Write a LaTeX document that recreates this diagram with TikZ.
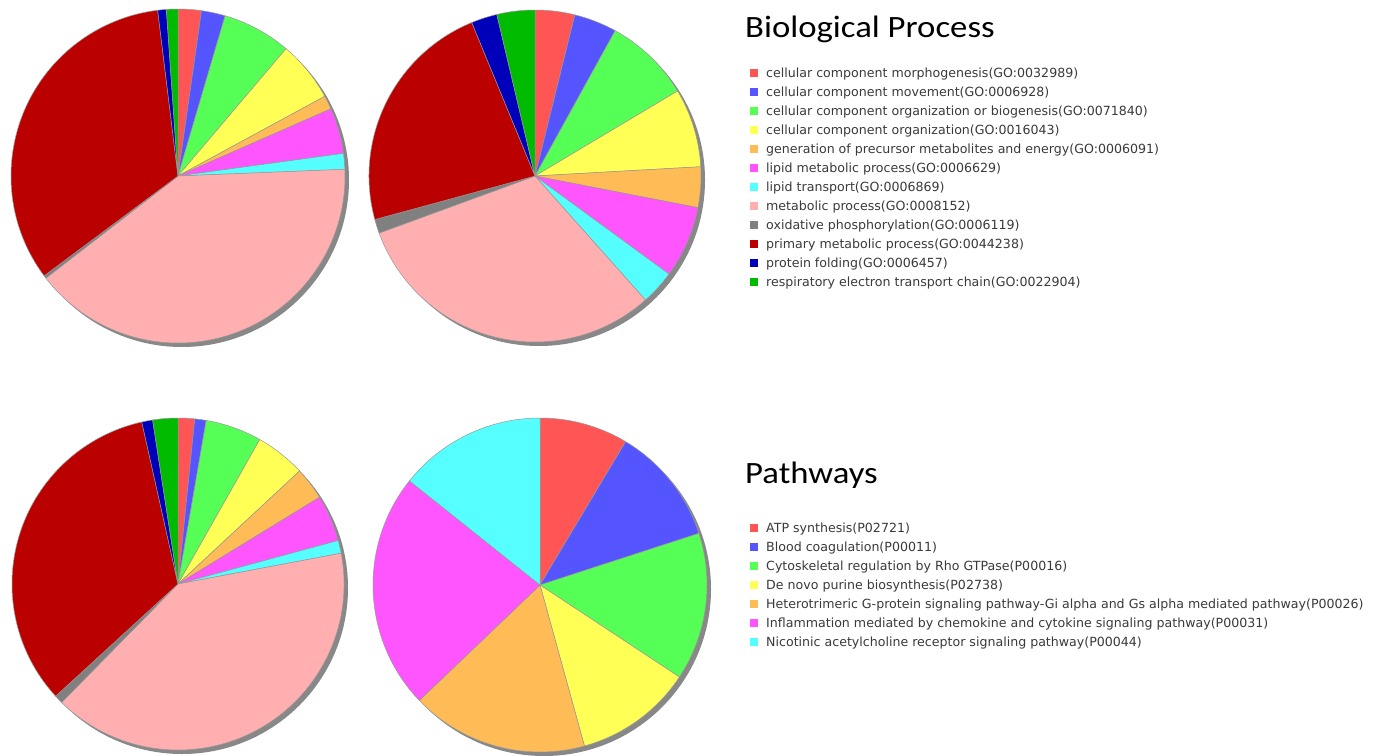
\documentclass[tikz,border=0pt]{standalone}
\usepackage{fontspec}
\newfontfamily\legfont{DejaVu Sans}
\newfontfamily\titfont{Carlito}
\definecolor{cRed}{HTML}{FF5555}
\definecolor{cBlue}{HTML}{5555FF}
\definecolor{cGreen}{HTML}{55FF55}
\definecolor{cYellow}{HTML}{FFFF55}
\definecolor{cOrange}{HTML}{FFBB55}
\definecolor{cMagenta}{HTML}{FF55FF}
\definecolor{cCyan}{HTML}{55FFFF}
\definecolor{cPink}{HTML}{FFAFAF}
\definecolor{cGray}{HTML}{808080}
\definecolor{cDarkRed}{HTML}{BB0000}
\definecolor{cNavy}{HTML}{0000BB}
\definecolor{cDarkGreen}{HTML}{00BB00}
\definecolor{shadowgray}{HTML}{888888}
\definecolor{edgegray}{HTML}{999999}
\definecolor{legtext}{HTML}{3A3A3A}
\newcommand\mypie[4]{%
  \fill[shadowgray] (#1+4,#2+4) circle[radius=#3];
  \foreach \a/\b/\c in {#4} {%
    \filldraw[fill=\c, draw=edgegray, line width=0.5pt, line join=round]
      (#1,#2) -- ++(\a-90:#3) arc[start angle=\a-90, end angle=\b-90, radius=#3] -- cycle;
  }%
}
\newcommand\widetitle[1]{\scalebox{1.12}[1]{#1}}
\tikzset{
  legsq/.style={draw=none, minimum size=8pt, inner sep=0pt, outer sep=0pt},
  legtxt/.style={anchor=base west, inner sep=0pt, text=legtext, font=\legfont\fontsize{12.6}{14}\selectfont},
  titletext/.style={anchor=base west, inner sep=0pt, text=black, font=\titfont\fontsize{31}{37}\selectfont}
}
\begin{document}
\begin{tikzpicture}[x=1pt,y=-1pt]
\useasboundingbox (0,0) rectangle (1378,755);
\fill[white] (0,0) rectangle (1378,755);

% Pie 1: top-left
\mypie{178}{176}{167}{0/8.1/cRed, 8.1/16.4/cBlue, 16.4/40.3/cGreen, 40.3/61.5/cYellow, 61.5/66.3/cOrange, 66.3/82.2/cMagenta, 82.2/87.7/cCyan, 87.7/232.3/cPink, 232.3/233.3/cGray, 233.3/353/cDarkRed, 353/356/cNavy, 356/360/cDarkGreen}

% Pie 2: top-right
\mypie{535}{176}{166}{0/13.9/cRed, 13.9/28.9/cBlue, 28.9/59.2/cGreen, 59.2/86.8/cYellow, 86.8/101/cOrange, 101/126.2/cMagenta, 126.2/138.3/cCyan, 138.3/249.9/cPink, 249.9/254.8/cGray, 254.8/337.6/cDarkRed, 337.6/346.7/cNavy, 346.7/360/cDarkGreen}

% Pie 3: bottom-left
\mypie{178}{584}{166}{0/5.8/cRed, 5.8/9.8/cBlue, 9.8/29.5/cGreen, 29.5/47.1/cYellow, 47.1/58.5/cOrange, 58.5/74.8/cMagenta, 74.8/79.3/cCyan, 79.3/224.5/cPink, 224.5/227.5/cGray, 227.5/347.4/cDarkRed, 347.4/351.2/cNavy, 351.2/360/cDarkGreen}

% Pie 4: bottom-right (pathways)
\mypie{540}{585}{167}{0/30.857/cRed, 30.857/72/cBlue, 72/123.429/cGreen, 123.429/164.571/cYellow, 164.571/226.286/cOrange, 226.286/308.571/cMagenta, 308.571/360/cCyan}

% Titles
\node[titletext] (bptitle) at (745,37.3) {\widetitle{Biological Process}};
\node[titletext] (pwtitle) at (745,483.3) {\widetitle{Pathways}};

% Biological process legend
\foreach \c/\t [count=\i from 0] in {
  cRed/{cellular component morphogenesis(GO:0032989)},
  cBlue/{cellular component movement(GO:0006928)},
  cGreen/{cellular component organization or biogenesis(GO:0071840)},
  cYellow/{cellular component organization(GO:0016043)},
  cOrange/{generation of precursor metabolites and energy(GO:0006091)},
  cMagenta/{lipid metabolic process(GO:0006629)},
  cCyan/{lipid transport(GO:0006869)},
  cPink/{metabolic process(GO:0008152)},
  cGray/{oxidative phosphorylation(GO:0006119)},
  cDarkRed/{primary metabolic process(GO:0044238)},
  cNavy/{protein folding(GO:0006457)},
  cDarkGreen/{respiratory electron transport chain(GO:0022904)}} {
  \node[legsq, fill=\c] (bpsq\i) at (754,73+19*\i) {};
  \node[legtxt] (bptx\i) at (766,77.3+19*\i) {\t};
}

% Pathways legend
\foreach \c/\t [count=\i from 0] in {
  cRed/{ATP synthesis(P02721)},
  cBlue/{Blood coagulation(P00011)},
  cGreen/{Cytoskeletal regulation by Rho GTPase(P00016)},
  cYellow/{De novo purine biosynthesis(P02738)},
  cOrange/{Heterotrimeric G-protein signaling pathway-Gi alpha and Gs alpha mediated pathway(P00026)},
  cMagenta/{Inflammation mediated by chemokine and cytokine signaling pathway(P00031)},
  cCyan/{Nicotinic acetylcholine receptor signaling pathway(P00044)}} {
  \node[legsq, fill=\c] (pwsq\i) at (754,528+19*\i) {};
  \node[legtxt] (pwtx\i) at (766,532.3+19*\i) {\t};
}
\end{tikzpicture}
\end{document}
